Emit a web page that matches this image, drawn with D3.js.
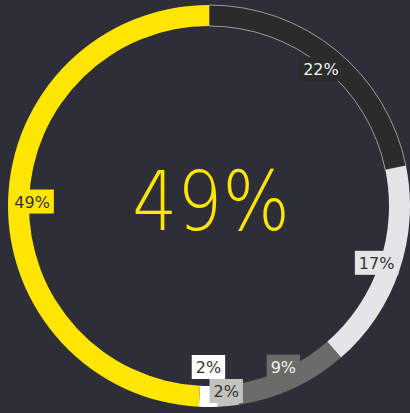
<!DOCTYPE html>
<html>
<head>
<meta charset="utf-8">
<script src="https://cdn.jsdelivr.net/npm/d3@7"></script>
<style>
  html, body { margin: 0; padding: 0; background: #2e2e39; }
  svg { display: block; }
</style>
</head>
<body>
<div id="chart"></div>
<script>
// data, clockwise from 12 o'clock
const segments = ["a", "b", "c", "d", "e", "f"];
const shares = [21.8, 16.8, 9.0, 1.7, 1.5, 49.2];
const fills = ["#2b2b2b", "#e5e5e8", "#6b6b68", "#c2c2bf", "#ffffff", "#ffe600"];
const textColors = ["#f2f2f2", "#333333", "#f2f2f2", "#333333", "#333333", "#333333"];
const highlight = 5;

const width = 410;
const height = 413;
const cx = 209, cy = 206;
const outerR = 201, innerR = 180, labelR = 177;

const data = segments.map((k, i) => ({ key: k, value: shares[i], fill: fills[i], text: textColors[i] }));

const pie = d3.pie().sort(null).value(d => d.value);
const arcs = pie(data);

const arc = d3.arc().innerRadius(innerR).outerRadius(outerR);
const labelArc = d3.arc().innerRadius(labelR).outerRadius(labelR);

const svg = d3.select("#chart").append("svg").attr("width", width).attr("height", height);
svg.append("rect").attr("width", width).attr("height", height).attr("fill", "#2e2e39");

const g = svg.append("g").attr("transform", `translate(${cx},${cy})`);

g.selectAll("path.slice")
    .data(arcs)
    .join("path")
    .attr("class", "slice")
    .attr("d", arc)
    .attr("fill", d => d.data.fill)
    .attr("stroke", (d, i) => i === 0 ? "#9c9c9c" : "none")
    .attr("stroke-width", 1);

// big number in the middle (squeezed a bit, the original face is narrower)
g.append("text")
    .attr("transform", "translate(2,-4) scale(0.865,1)")
    .attr("text-anchor", "middle")
    .attr("dominant-baseline", "central")
    .attr("font-family", "DejaVu Sans")
    .attr("font-weight", 200)
    .attr("font-size", 82)
    .attr("fill", fills[highlight])
    .text(Math.round(shares[highlight]) + "%");

// labels
const labels = arcs.map(d => {
    const [x, y] = labelArc.centroid(d);
    return { d: d, x: x, y: y, w: 0, h: 24 };
});

const lg = g.append("g");
const items = lg.selectAll("g.lab").data(labels).join("g").attr("class", "lab");
const boxes = items.append("rect").attr("fill", l => l.d.data.fill);
const texts = items.append("text")
    .attr("text-anchor", "middle")
    .attr("dominant-baseline", "central")
    .attr("font-family", "DejaVu Sans")
    .attr("font-size", 16)
    .attr("fill", l => l.d.data.text)
    .text(l => Math.round(l.d.data.value) + "%");

texts.each(function(l) { l.w = this.getBBox().width + 8; });

// overlapping labels: the later one moves up, the earlier one down
for (let it = 0; it < 20; it++) {
    for (let i = 0; i < labels.length; i++) {
        for (let j = i + 1; j < labels.length; j++) {
            const a = labels[i], b = labels[j];
            const ox = (a.w + b.w) / 2 - Math.abs(a.x - b.x);
            const oy = (a.h + b.h) / 2 - Math.abs(a.y - b.y);
            if (ox > 0 && oy > 0) {
                a.y += oy / 2;
                b.y -= oy / 2;
            }
        }
    }
}
// keep inside the bottom edge, shifting the whole cluster
const maxY = height - 10 - cy - 12;
labels.forEach(l => {
    if (l.y > maxY) {
        const shift = l.y - maxY;
        labels.forEach(o => {
            if (o !== l && Math.abs(o.x - l.x) < (o.w + l.w) / 2 && o.y > 120) o.y -= shift;
        });
        l.y = maxY;
    }
});

items.attr("transform", l => `translate(${l.x},${l.y})`);
boxes.attr("x", l => -l.w / 2).attr("y", l => -l.h / 2).attr("width", l => l.w).attr("height", l => l.h);
texts.attr("y", 0.5);
</script>
</body>
</html>
